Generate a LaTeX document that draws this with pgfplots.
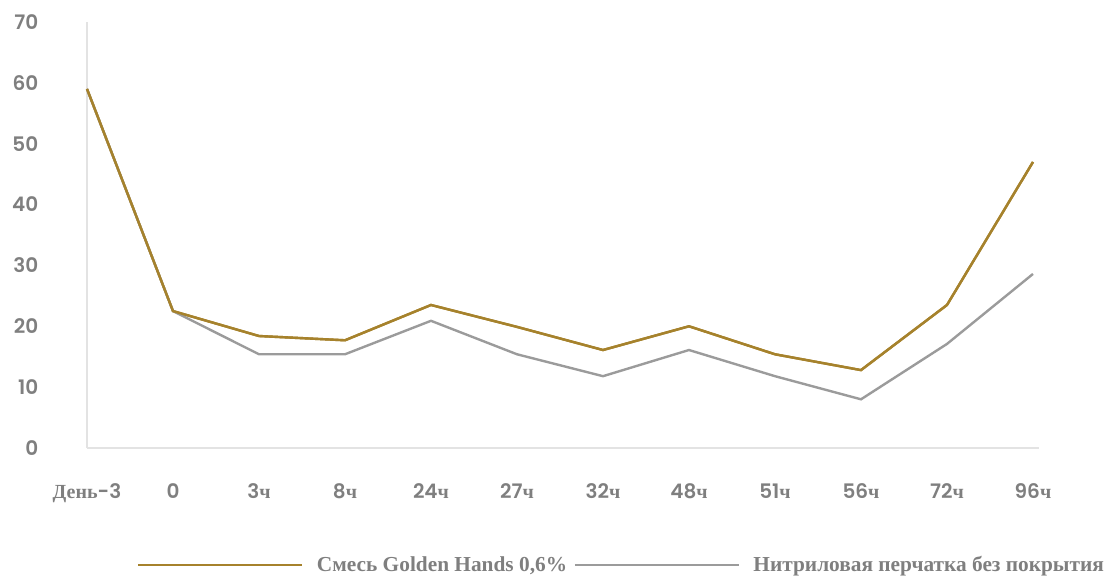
\documentclass[border=0pt]{standalone}
\usepackage{fontspec}
\usepackage{pgfplots}
\pgfplotsset{compat=1.18}
\setmainfont{Liberation Serif}
\newfontfamily\pop{Poppins}[UprightFont=* SemiBold]
\newfontfamily\cyr{Liberation Serif}[UprightFont=* Bold]
\definecolor{gold}{HTML}{A6822C}
\definecolor{lgray}{HTML}{9B9B9B}
\definecolor{tgray}{HTML}{7F7F7F}
\definecolor{axgray}{HTML}{E3E3E3}
\pgfplotstableread{
x gold gray
0 59 59
1 22.5 22.5
2 18.4 15.4
3 17.7 15.4
4 23.5 20.9
5 19.9 15.4
6 16.1 11.8
7 20.0 16.1
8 15.4 11.8
9 12.8 8.0
10 23.5 17.1
11 47 28.6
}\datatable
\begin{document}
\begin{tikzpicture}[x=1pt,y=1pt]
\begin{axis}[
  at={(0,0)}, anchor=south west,
  scale only axis,
  width=714pt, height=319.5pt,
  xmin=0, xmax=11.07, ymin=0, ymax=70,
  axis x line=bottom, axis y line=left,
  axis line style={axgray, line width=1.5pt, -},
  major tick length=0pt,
  xtick={0,...,11},
  xticklabels={{\cyr День}-3,0,3{\cyr ч},8{\cyr ч},24{\cyr ч},27{\cyr ч},32{\cyr ч},48{\cyr ч},51{\cyr ч},56{\cyr ч},72{\cyr ч},96{\cyr ч}},
  ytick={0,10,...,70},
  ticklabel style={font=\pop\fontsize{15}{17}\selectfont, text=tgray},
  /pgf/number format/assume math mode=true,
  xticklabel style={yshift=-38pt, anchor=base, text height=0pt},
  yticklabel style={xshift=-33pt, anchor=east},
  legend style={at={(34.5pt,-87.75pt)}, anchor=west, draw=none, fill=none,
    legend columns=2, font=\bfseries\fontsize{16}{18}\selectfont, text=tgray,
    /tikz/every odd column/.append style={column sep=8pt},
    /tikz/every even column/.append style={column sep=3pt}},
  legend image code/.code={\draw[#1, line width=1.8pt] (0pt,0pt) -- (123pt,0pt);},
  clip=false,
]
\addplot[gold, line width=1.8pt] table[x=x, y=gold] {\datatable};
\addlegendentry{Смесь Golden Hands 0,6\%}
\addplot[lgray, line width=1.8pt] table[x=x, y=gray] {\datatable};
\addlegendentry{Нитриловая перчатка без покрытия}
\addplot[gold, line width=1.8pt, forget plot] table[x=x, y=gold] {\datatable};
\end{axis}
\path[use as bounding box] (-65.25pt,-96.75pt) rectangle (771.75pt,336pt);
\end{tikzpicture}
\end{document}
